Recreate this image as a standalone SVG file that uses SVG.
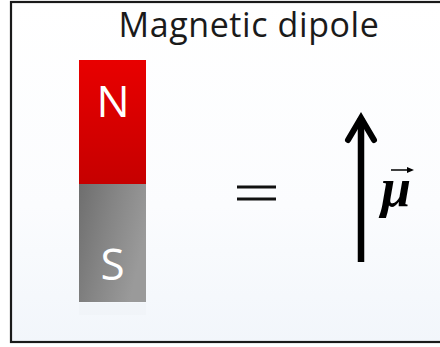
<svg xmlns="http://www.w3.org/2000/svg" width="440" height="347" viewBox="0 0 440 347">
  <defs>
    <linearGradient id="bg" x1="0" y1="0" x2="0" y2="1">
      <stop offset="0" stop-color="#ffffff"/>
      <stop offset="0.6" stop-color="#fbfcfe"/>
      <stop offset="1" stop-color="#f2f6fb"/>
    </linearGradient>
    <linearGradient id="red" x1="0" y1="0" x2="0" y2="1">
      <stop offset="0" stop-color="#e80000"/>
      <stop offset="1" stop-color="#c60000"/>
    </linearGradient>
    <linearGradient id="gray" x1="0" y1="0" x2="1" y2="0.4">
      <stop offset="0" stop-color="#6e6e6e"/>
      <stop offset="0.5" stop-color="#858585"/>
      <stop offset="1" stop-color="#9a9a9a"/>
    </linearGradient>
    <style>
      .pole { font-family: "Open Sans", "Liberation Sans", sans-serif; font-size: 44px; fill: #ffffff; text-anchor: middle; }
      .title { font-family: "Open Sans", "Liberation Sans", sans-serif; font-size: 34px; fill: #1a1a1a; text-anchor: middle; letter-spacing: 0.6px; }
      .sym { font-family: "Liberation Serif", "DejaVu Serif", serif; font-style: italic; font-weight: bold; fill: #000000; }
    </style>
  </defs>
  <rect x="0" y="0" width="440" height="347" fill="#ffffff"/>
  <rect x="11" y="2" width="432" height="340" fill="url(#bg)" stroke="#1a1a1a" stroke-width="2.2"/>

  <g id="title">
    <text class="title" x="249" y="36.5">Magnetic dipole</text>
  </g>

  <g id="magnet">
    <g id="north">
      <rect x="79" y="60" width="67" height="124" fill="url(#red)"/>
      <text class="pole" x="113" y="117">N</text>
    </g>
    <g id="south">
      <rect x="79" y="184" width="67" height="118" fill="url(#gray)"/>
      <text class="pole" x="112.5" y="280">S</text>
    </g>
    <rect x="79" y="303" width="67" height="12" fill="#eef1f5" opacity="0.5"/>
  </g>

  <g id="equals">
    <rect x="237" y="185.5" width="39" height="3" fill="#111111"/>
    <rect x="237" y="197.5" width="39" height="3" fill="#111111"/>
  </g>

  <g id="connectors">
    <line x1="361" y1="262" x2="361" y2="118" stroke="#000000" stroke-width="6.5"/>
    <polyline points="348,140 361,118 374,140" fill="none" stroke="#000000" stroke-width="6" stroke-linecap="round" stroke-linejoin="miter"/>
  </g>

  <g id="mu">
    <text class="sym" x="381" y="206" font-size="54">μ</text>
    <line x1="391" y1="170" x2="410" y2="170" stroke="#000000" stroke-width="1.5"/>
    <polygon points="414,170 407,167 407,173" fill="#000000"/>
  </g>
</svg>
